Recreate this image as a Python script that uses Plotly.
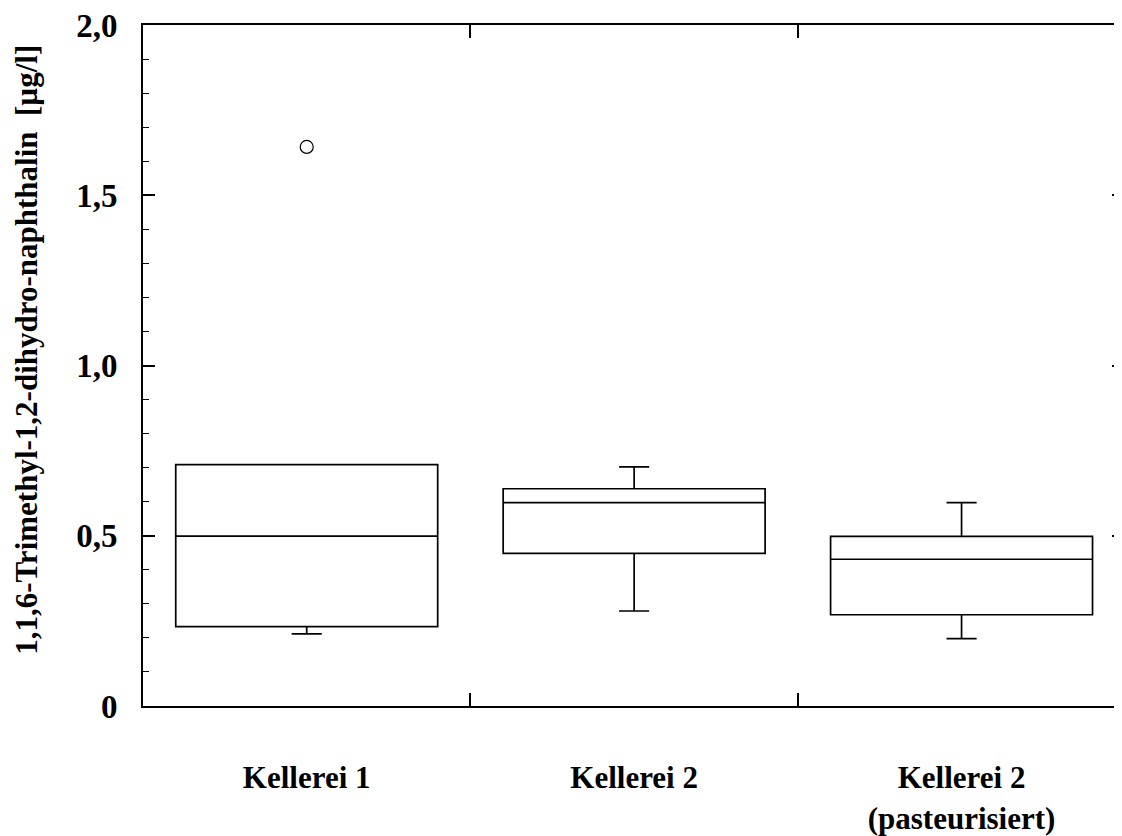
import plotly.graph_objects as go

categories = ["Kellerei 1", "Kellerei 2", "Kellerei 2<br>(pasteurisiert)"]
lower_whisker = [0.212, 0.279, 0.198]
q1_values = [0.233, 0.448, 0.268]
median_values = [0.499, 0.597, 0.431]
q3_values = [0.709, 0.638, 0.498]
upper_whisker = [0.709, 0.702, 0.597]
outlier_category = ["Kellerei 1"]
outlier_values = [1.642]

y_tickvals = [0, 0.5, 1.0, 1.5, 2.0]
y_ticktext = ["0", "0,5", "1,0", "1,5", "2,0"]
y_title = "1,1,6-Trimethyl-1,2-dihydro-naphthalin  [µg/l]"

FONT = "Liberation Serif"

fig = go.Figure()
fig.add_trace(go.Box(
    x=categories,
    q1=q1_values, median=median_values, q3=q3_values,
    lowerfence=lower_whisker, upperfence=upper_whisker,
    boxpoints=False,
    width=0.8,
    whiskerwidth=0.115,
    fillcolor="white",
    line=dict(color="black", width=1.7),
    showlegend=False,
))
fig.add_trace(go.Scatter(
    x=outlier_category, y=outlier_values, mode="markers",
    marker=dict(symbol="circle-open", size=13, color="black", line=dict(width=1.2)),
    showlegend=False,
))
# invisible trace to anchor right-side tick axis
fig.add_trace(go.Scatter(
    x=[categories[0]], y=[1.0], yaxis="y2", mode="markers",
    marker=dict(opacity=0), showlegend=False, hoverinfo="skip",
))

fig.add_annotation(
    text=y_title, textangle=-90,
    xref="paper", yref="paper", x=-0.1185, y=0.523,
    xanchor="center", yanchor="middle", showarrow=False,
    font=dict(family=FONT, size=31, weight="bold", color="black"),
)

fig.update_layout(
    width=1114, height=828,
    margin=dict(l=135, r=0, t=12, b=129),
    paper_bgcolor="white", plot_bgcolor="white",
    font=dict(family=FONT, color="black"),
    xaxis=dict(
        type="category",
        categoryorder="array", categoryarray=categories,
        range=[-0.5, 2.49],
        showline=True, linecolor="black", linewidth=2,
        mirror="ticks",
        ticks="inside", tickson="boundaries", ticklen=13, tickwidth=1.5, tickcolor="black",
        tickfont=dict(family=FONT, size=31, weight="bold", color="black"),
        ticklabelstandoff=43,
        showgrid=False, zeroline=False,
    ),
    yaxis=dict(
        range=[0, 2],
        tickvals=y_tickvals, ticktext=y_ticktext,
        showline=True, linecolor="black", linewidth=2,
        ticks="inside", ticklen=12, tickwidth=1.5, tickcolor="black",
        minor=dict(dtick=0.1, tick0=0, ticks="inside", ticklen=6, tickwidth=1.2, tickcolor="black", showgrid=False),
        tickfont=dict(family=FONT, size=33, weight="bold", color="black"),
        ticklabelstandoff=17,
        ticklabeloverflow="allow",
        showgrid=False, zeroline=False,
    ),
    yaxis2=dict(
        overlaying="y", side="right", anchor="x",
        range=[0, 2],
        tickvals=y_tickvals, showticklabels=False,
        showline=False,
        ticks="inside", ticklen=10, tickwidth=1.5, tickcolor="black",
        minor=dict(dtick=0.1, tick0=0, ticks="inside", ticklen=4, tickwidth=1.2, tickcolor="black", showgrid=False),
        showgrid=False, zeroline=False,
    ),
)

fig.write_html("out.html")
